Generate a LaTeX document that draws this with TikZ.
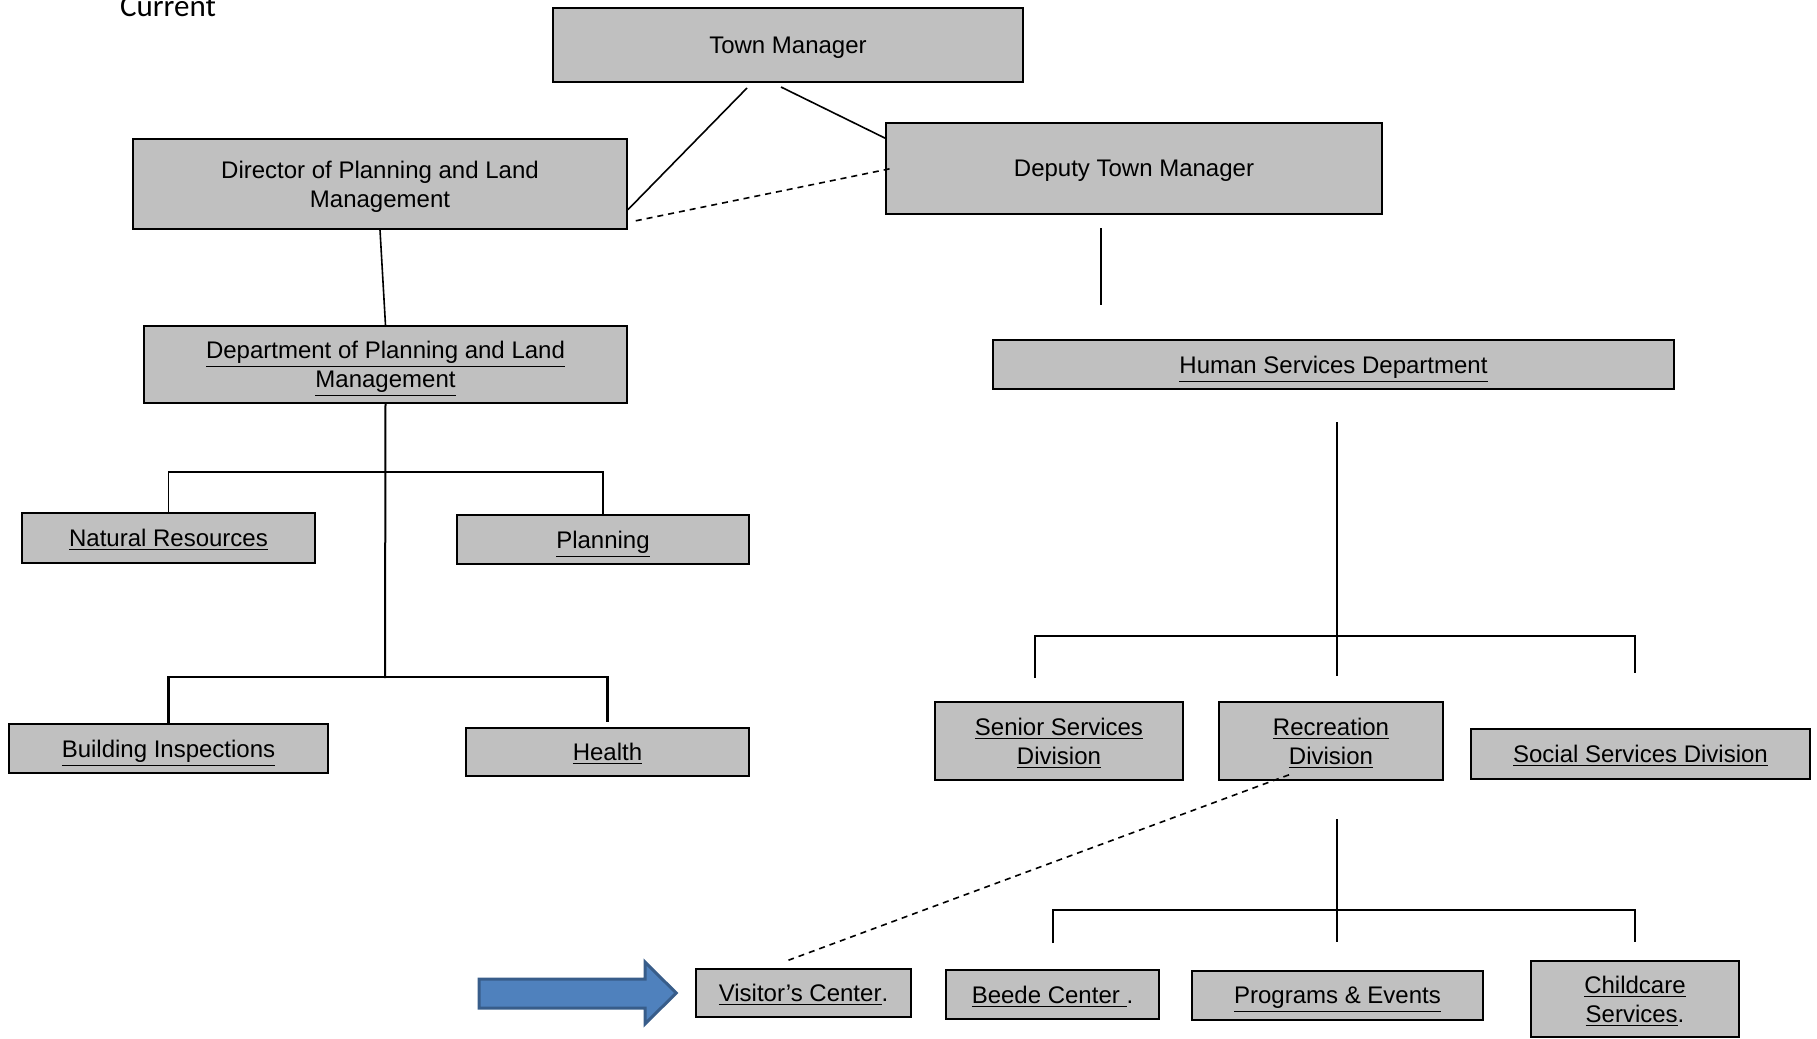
\documentclass[tikz,border=0pt]{standalone}
\usepackage{fontspec}
\setmainfont{Liberation Sans}
\newfontfamily\curfont{Carlito}
\usetikzlibrary{calc}
\definecolor{boxgray}{RGB}{192,192,192}
\definecolor{arrowblue}{RGB}{79,129,189}
\definecolor{arrowedge}{RGB}{56,93,138}

\begin{document}
\begin{tikzpicture}[x=0.5pt, y=-0.5pt,
    box/.style={draw=black, fill=boxgray, line width=0.8pt, inner sep=0pt, text depth=0pt, align=center, font=\fontsize{12}{14.5}\selectfont},
    link/.style={black, line width=0.8pt},
    dashlink/.style={black, line width=0.8pt, dash pattern=on 3pt off 2.5pt}]
    \useasboundingbox (0,0) rectangle (1817,1039);
    \node[anchor=base, font=\curfont\fontsize{15.5}{18}\selectfont] (cur) at (168,16) {Current};

    % top level
    \node[box, minimum width=235pt, minimum height=37pt] (tm) at (788,45) {Town Manager};
    \node[box, minimum width=247pt, minimum height=45pt] (dir) at (380,184) {Director of Planning and Land\\Management};
    \node[box, minimum width=248pt, minimum height=45.5pt] (dep) at (1134,168.5) {Deputy Town Manager};

    % planning side
    \node[box, minimum width=241.5pt, minimum height=38.5pt] (dpl) at (385.5,364.5) {\underline{Department of Planning and Land}\\\underline{Management}};
    \node[box, minimum width=146.5pt, minimum height=25pt] (nr) at (168.5,538) {\underline{Natural Resources}};
    \node[box, minimum width=146pt, minimum height=24.5pt] (pl) at (603,539.5) {\underline{Planning}};
    \node[box, minimum width=159.5pt, minimum height=24.5pt] (bi) at (168.5,748.5) {\underline{Building Inspections}};
    \node[box, minimum width=141.5pt, minimum height=24pt] (he) at (607.5,752) {\underline{Health}};

    % human services side
    \node[box, minimum width=340.5pt, minimum height=24.5pt] (hs) at (1333.5,364.5) {\underline{Human Services Department}};
    \node[box, minimum width=124pt, minimum height=39pt] (ssd) at (1059,741) {\underline{Senior Services}\\\underline{Division}};
    \node[box, minimum width=112pt, minimum height=39pt] (rec) at (1331,741) {\underline{Recreation}\\\underline{Division}};
    \node[box, minimum width=169.5pt, minimum height=25pt] (soc) at (1640.5,754) {\underline{Social Services Division}};
    \node[box, minimum width=107.5pt, minimum height=24pt] (vis) at (803.5,993) {\underline{Visitor’s Center}.};
    \node[box, minimum width=106.5pt, minimum height=24.5pt] (bee) at (1052.5,994.5) {\underline{Beede Center\ }.};
    \node[box, minimum width=145.5pt, minimum height=24.5pt] (pro) at (1337.5,995.5) {\underline{Programs \& Events}};
    \node[box, minimum width=104pt, minimum height=38pt] (chi) at (1635,999) {\underline{Childcare}\\\underline{Services}.};

    % free line ends
    \coordinate (tmA) at (747,88);
    \coordinate (tmB) at (781,87);
    \coordinate (depA) at (1101,228);
    \coordinate (depB) at (1101,305);
    \coordinate (b2) at (385,678);
    \coordinate (hsA) at (1337,422);
    \coordinate (hsB) at (1337,676);
    \coordinate (b3L) at (1035,678);
    \coordinate (b3R) at (1635,673);
    \coordinate (recA) at (1337,819);
    \coordinate (recB) at (1337,942);

    \draw[link] (tmA) -- ($(dir.south east)+(0,-20)$);
    \draw[link] (tmB) -- ($(dep.north west)+(0,16)$);
    \draw[dashlink] ($(dir.south east)+(8,-9)$) -- ($(dep.west)+(6,0)$);
    \draw[link, line width=1pt] (depA) -- (depB);

    \draw[link] (dir.south) -- (dpl.north);
    \draw[link, line width=1pt] (dpl.south) -- (b2);
    \draw[link] (nr.north) -- ++(0,-40) -| (pl.north);
    \draw[link, line width=1.1pt] (bi.north) -- ++(0,-46) -| ($(he.north)+(0,-5)$);

    \draw[link, line width=1pt] (hsA) -- (hsB);
    \draw[link] (b3L) -- ++(0,-42) -| (b3R);
    \draw[link] (recA) -- (recB);
    \draw[link, line width=1pt] ($(bee.north)+(0,-26)$) -- ++(0,-33) -| ($(chi.north)+(0,-18)$);
    \draw[dashlink] ($(rec.south)+(-42,-6)$) -- ($(vis.north)+(-15,-8)$);

    % pointer arrow
    \filldraw[fill=arrowblue, draw=arrowedge, line width=1.5pt] (479,979) -- (645,979) -- (645,962) -- ($(vis.west)+(-19,0)$) -- (645,1024) -- (645,1008) -- (479,1008) -- cycle;
\end{tikzpicture}
\end{document}
